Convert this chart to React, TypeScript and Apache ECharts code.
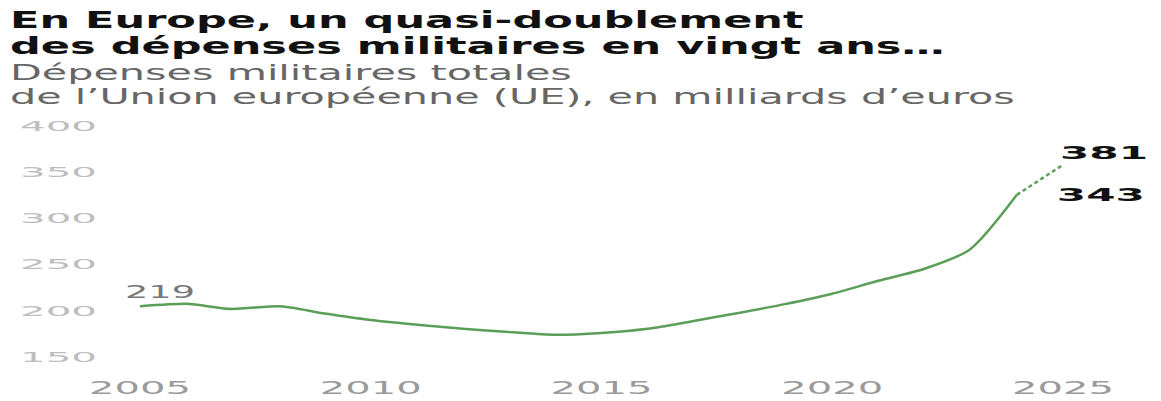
import React, { useEffect, useRef } from "react";
import * as echarts from "echarts";

const years = [
  "2005", "2006", "2007", "2008", "2009", "2010", "2011", "2012", "2013", "2014",
  "2015", "2016", "2017", "2018", "2019", "2020", "2021", "2022", "2023", "2024", "2025",
];
const spending = [
  205, 207.5, 202, 205, 197, 190, 185, 180.5, 177, 174,
  176, 180.5, 189, 198, 207.5, 218.5, 232.5, 245.5, 267, 325.5, null,
];
const projection = [
  null, null, null, null, null, null, null, null, null, null,
  null, null, null, null, null, null, null, null, null, 325.5, 358,
];
const yTicks = [150, 200, 250, 300, 350, 400];
const xTicks = ["2005", "2010", "2015", "2020", "2025"];
const startLabel = "219";
const lastLabel = "343";
const projLabel = "381";
const titleLines = ["En Europe, un quasi-doublement", "des dépenses militaires en vingt ans…"];
const subtitleLines = ["Dépenses militaires totales", "de l’Union européenne (UE), en milliards d’euros"];

const measure = (text: string, font: string) => {
  const c = document.createElement("canvas").getContext("2d")!;
  c.font = font;
  return c.measureText(text).width;
};

export default function App() {
  const ref = useRef<HTMLDivElement>(null);
  useEffect(() => {
    document.body.style.margin = "0";
    const chart = echarts.init(ref.current!, null, { renderer: "svg" });
    chart.setOption({
      animation: false,
      grid: { left: 140, right: 98, top: 126, bottom: 44 },
      xAxis: {
        type: "category",
        data: years,
        boundaryGap: false,
        axisLine: { show: false },
        axisTick: { show: false },
        axisLabel: { show: false },
      },
      yAxis: {
        type: "value",
        min: 150,
        max: 400,
        interval: 50,
        splitLine: { show: false },
        axisLabel: { show: false },
      },
      series: [
        {
          type: "line",
          data: spending,
          smooth: 0.25,
          showSymbol: false,
          lineStyle: { color: "#5a9e58", width: 2.5 },
        },
        {
          type: "line",
          data: projection,
          showSymbol: false,
          lineStyle: { color: "#5a9e58", width: 2.5, type: [4, 3] },
        },
      ],
    });

    const toPx = (i: number, v: number) =>
      chart.convertToPixel({ gridIndex: 0 }, [i, v]) as number[];

    const mk = (
      text: string, x: number, y: number, font: string, fill: string,
      align: string, scaleX: number
    ) => ({
      type: "text",
      x, y, scaleX,
      silent: true,
      style: { text, font, fill, textAlign: align, textVerticalAlign: "middle" },
    });

    const titleFont = 'bold 23px "DejaVu Sans"';
    const subFont = '21px "DejaVu Sans"';
    const titleScale = 935 / measure(titleLines[1], titleFont);
    const subScale = 1005 / measure(subtitleLines[1], subFont);

    const els: any[] = [];
    els.push(mk(titleLines[0], 10, 20, titleFont, "#111", "left", titleScale));
    els.push(mk(titleLines[1], 10, 46, titleFont, "#111", "left", titleScale));
    els.push(mk(subtitleLines[0], 10, 73, subFont, "#666", "left", subScale));
    els.push(mk(subtitleLines[1], 10, 97, subFont, "#666", "left", subScale));

    const yFont = '14px "DejaVu Sans"';
    const yScale = 77 / measure("400", yFont);
    yTicks.forEach((t) => {
      const p = toPx(0, t);
      els.push(mk(String(t), 97, p[1], yFont, "#bdbdbd", "right", yScale));
    });

    const xFont = '18px "DejaVu Sans"';
    const xScale = 102 / measure("2005", xFont);
    xTicks.forEach((t) => {
      const i = years.indexOf(t);
      const p = toPx(i, 150);
      els.push(mk(t, p[0], 388, xFont, "#9a9a9a", "center", xScale));
    });

    const aFont = '18px "DejaVu Sans"';
    const aScale = 70 / measure(startLabel, aFont);
    const p0 = toPx(0, spending[0] as number);
    els.push(mk(startLabel, p0[0] - 15, p0[1] - 14, aFont, "#777", "left", aScale));

    const bFont = 'bold 18px "DejaVu Sans"';
    const bScale = 88 / measure(projLabel, bFont);
    const p1 = toPx(19, spending[19] as number);
    els.push(mk(lastLabel, p1[0] + 40, p1[1], bFont, "#111", "left", bScale));
    const p2 = toPx(20, projection[20] as number);
    els.push(mk(projLabel, p2[0] - 3, p2[1] - 12, bFont, "#111", "left", bScale));

    chart.setOption({ graphic: els });
    return () => chart.dispose();
  }, []);
  return <div ref={ref} style={{ width: 1161, height: 401 }} />;
}
